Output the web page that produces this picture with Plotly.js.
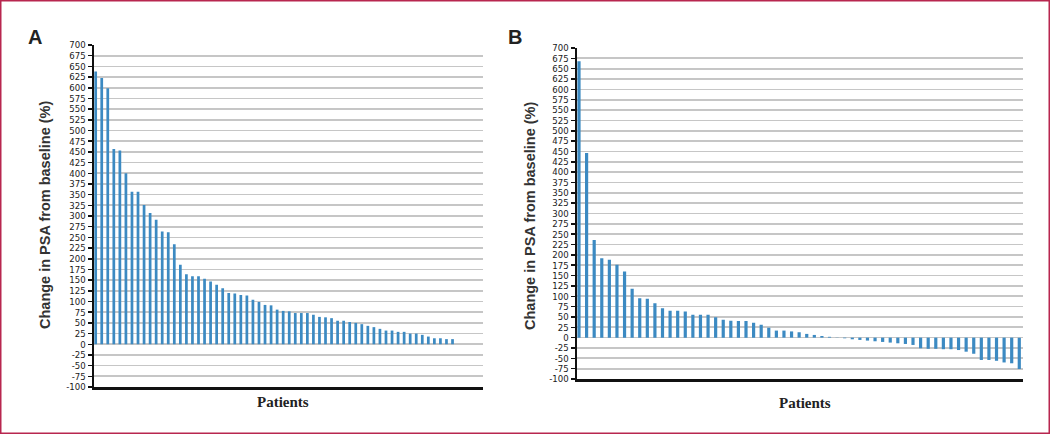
<!DOCTYPE html>
<html>
<head>
<meta charset="utf-8">
<script src="https://cdn.plot.ly/plotly-3.0.1.min.js"></script>
<style>html,body{margin:0;padding:0;background:#fff;}#chart{width:1050px;height:434px;}</style>
</head>
<body>
<div id="chart"></div>
<script>
// Panel A: change in PSA from baseline (%) per patient, sorted
const psaChangeA = [638, 623, 599, 457, 453, 400, 357, 357, 326, 307,
  291, 264, 262, 234, 186, 164, 159, 159, 153, 147,
  139, 131, 120, 119, 115, 114, 104, 99, 92, 91,
  81, 78, 77, 73, 73, 73, 69, 64, 63, 61,
  55, 55, 52, 50, 47, 43, 40, 36, 32, 32,
  29, 29, 25, 25, 22, 18, 14, 14, 12, 12];
// Panel B
const psaChangeB = [668, 446, 236, 192, 188, 176, 160, 118, 95, 94,
  83, 71, 65, 65, 63, 55, 55, 55, 49, 43,
  41, 40, 40, 36, 31, 24, 17, 17, 15, 13,
  9, 6.5, 4, 2, 0.5, -1.6, -4, -5.6, -7.2, -8.8,
  -10.4, -12, -13.7, -15.3, -17.7, -25.7, -27, -27, -28, -28,
  -30, -34, -39, -54, -54, -56, -60, -62, -76];
const yTickVals = [700, 675, 650, 625, 600, 575, 550, 525, 500, 475, 450, 425, 400, 375, 350, 325, 300,
  275, 250, 225, 200, 175, 150, 125, 100, 75, 50, 25, 0, -25, -50, -75, -100];
const yTickText = ["700", "675", "650", "625", "600", "575", "550", "525", "500", "475", "450", "425", "400", "375", "350", "325", "300",
  "275", "250", "225", "200", "175", "150", "125", "100", "75", "50", "25", "0", "-25", "-50", "-75", "-100"];
const panelLabels = ["A", "B"];
const yTitle = "Change in PSA from baseline (%)";
const xTitle = "Patients";

const patientsA = psaChangeA.map((_, i) => i + 1);
const patientsB = psaChangeB.map((_, i) => i + 1);

const W = 1050, H = 434;
const px = v => v / W;
const py = v => 1 - v / H;
const barColor = "#3c8ac2";

const traces = [
  {type: "bar", x: patientsA, y: psaChangeA, xaxis: "x", yaxis: "y", width: 0.45,
   marker: {color: barColor, line: {width: 0}}, hoverinfo: "y"},
  {type: "bar", x: patientsB, y: psaChangeB, xaxis: "x2", yaxis: "y2", width: 0.42,
   marker: {color: barColor, line: {width: 0}}, hoverinfo: "y"}
];

const tickFont = {family: "Liberation Sans Narrow, DejaVu Sans Condensed, Arial Narrow, sans-serif", size: 9.5, color: "#1a1a1a"};
function yAxis(domain, anchor) {
  return {domain: domain, anchor: anchor, range: [-100, 700], autorange: false,
    tickmode: "array", tickvals: yTickVals, ticktext: yTickText, tickfont: tickFont,
    ticks: "outside", ticklen: 4, tickwidth: 1.5, tickcolor: "#111",
    showline: true, linecolor: "#111", linewidth: 2,
    showgrid: true, gridcolor: "#c6c6c6", gridwidth: 1.7, zeroline: false, fixedrange: true};
}
function xAxis(domain, anchor, range) {
  return {domain: domain, anchor: anchor, range: range, autorange: false,
    showticklabels: false, ticks: "", showgrid: false, zeroline: false,
    showline: true, linecolor: "#111", linewidth: 2.5, fixedrange: true};
}

const titleFont = {family: "Liberation Sans, Arial, sans-serif", size: 14.5, color: "#333", weight: "bold"};
const letterFont = {family: "Liberation Sans, Arial, sans-serif", size: 20, color: "#222", weight: "bold"};
const xTitleFont = {family: "Liberation Serif, Times New Roman, serif", size: 15, color: "#222", weight: "bold"};

const layout = {
  width: W, height: H,
  margin: {l: 0, r: 0, t: 0, b: 0},
  paper_bgcolor: "#ffffff", plot_bgcolor: "#ffffff",
  showlegend: false,
  xaxis: xAxis([px(93.5), px(483)], "y", [0.64, 65.04]),
  yaxis: yAxis([1 - 387 / H, 1 - 45 / H], "x"),
  xaxis2: xAxis([px(576.5), px(1022.7)], "y2", [0.67, 59.45]),
  yaxis2: yAxis([1 - 379 / H, 1 - 48 / H], "x2"),
  shapes: [
    {type: "rect", xref: "paper", yref: "paper", x0: 0, x1: 1, y0: 0, y1: 1,
     line: {color: "#b8264f", width: 3}, fillcolor: "rgba(0,0,0,0)", layer: "above"}
  ],
  annotations: [
    {text: panelLabels[0], xref: "paper", yref: "paper", x: px(35), y: py(37), showarrow: false,
     xanchor: "center", yanchor: "middle", font: letterFont},
    {text: panelLabels[1], xref: "paper", yref: "paper", x: px(515), y: py(37), showarrow: false,
     xanchor: "center", yanchor: "middle", font: letterFont},
    {text: yTitle, xref: "paper", yref: "paper", x: px(45), y: py(215), textangle: -90, showarrow: false,
     xanchor: "center", yanchor: "middle", font: titleFont},
    {text: yTitle, xref: "paper", yref: "paper", x: px(530), y: py(216), textangle: -90, showarrow: false,
     xanchor: "center", yanchor: "middle", font: titleFont},
    {text: xTitle, xref: "paper", yref: "paper", x: px(283), y: py(402), showarrow: false,
     xanchor: "center", yanchor: "middle", font: xTitleFont},
    {text: xTitle, xref: "paper", yref: "paper", x: px(805), y: py(403), showarrow: false,
     xanchor: "center", yanchor: "middle", font: xTitleFont}
  ]
};

Plotly.newPlot("chart", traces, layout, {displayModeBar: false, staticPlot: true});
</script>
</body>
</html>
